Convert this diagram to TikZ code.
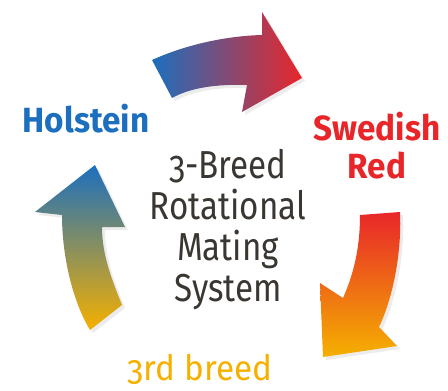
\documentclass[tikz,border=0pt]{standalone}
\usepackage{fontspec}
\setmainfont{Fira Sans}[Numbers=OldStyle, FakeStretch=0.85]
\newfontfamily\labelfont{Fira Sans}[Numbers=OldStyle, FakeStretch=0.95]
\usetikzlibrary{shadows}

\definecolor{holsteinblue}{RGB}{28,111,190}
\definecolor{swedishred}{RGB}{232,38,42}
\definecolor{breedgold}{RGB}{245,176,0}
\definecolor{arrowgray}{RGB}{140,136,128}
\definecolor{arroworange}{RGB}{240,120,24}
\definecolor{textgray}{RGB}{58,54,50}

\begin{document}
\begin{tikzpicture}[x=1pt, y=-1pt,
    arrowshadow/.style={drop shadow={opacity=0.15, shadow xshift=3pt, shadow yshift=-3pt}}]

    \useasboundingbox (0,0) rectangle (448,391);

    \shade[arrowshadow, left color=holsteinblue, right color=swedishred]
        (152,60) .. controls (185,45) and (225,36) .. (262,35) -- (262,12) -- (302,78)
        -- (242,112) -- (247,85) .. controls (215,84) and (190,88) .. (172,98) -- cycle;

    \shade[arrowshadow, top color=swedishred, middle color=arroworange, bottom color=breedgold]
        (360,215) -- (400,212) .. controls (402,255) and (392,300) .. (379,327) -- (397,346)
        -- (323,357) -- (320,283) -- (343,298) .. controls (353,275) and (360,250) .. (360,215) -- cycle;

    \shade[arrowshadow, top color=holsteinblue, middle color=arrowgray, bottom color=breedgold]
        (90,330) -- (122,305) .. controls (112,280) and (102,255) .. (102,227) -- (125,227)
        -- (95,165) -- (35,212) -- (62,215) .. controls (62,255) and (72,300) .. (90,330) -- cycle;

    \node[font=\labelfont\bfseries\fontsize{35}{38}\selectfont, text=holsteinblue, anchor=base] (holstein) at (86,132) {Holstein};
    \node[font=\labelfont\bfseries\fontsize{35}{38}\selectfont, text=swedishred, align=center, anchor=base] (swedish) at (377,178) {Swedish\\Red};
    \node[font=\fontsize{39}{41}\selectfont, text=textgray, align=center, anchor=base] (system) at (228,301) {3-Breed\\Rotational\\Mating\\System};
    \node[font=\labelfont\fontsize{35}{38}\selectfont, text=breedgold, anchor=base] (third) at (200,380) {3rd breed};

\end{tikzpicture}
\end{document}
